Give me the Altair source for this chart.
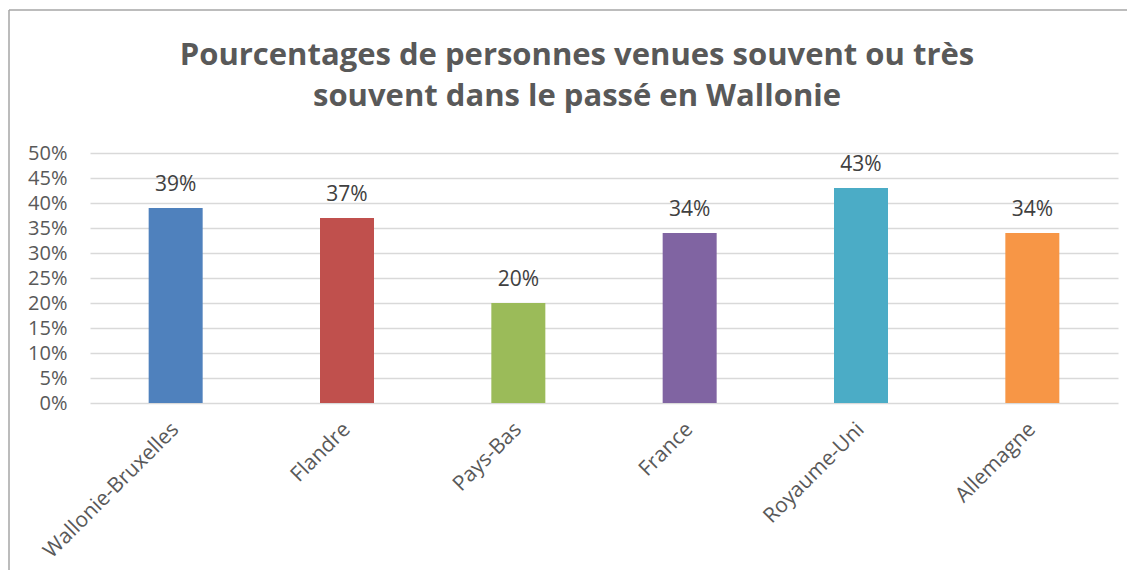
import altair as alt
import pandas as pd

categories = ["Wallonie-Bruxelles", "Flandre", "Pays-Bas", "France", "Royaume-Uni", "Allemagne"]
values = [0.39, 0.37, 0.20, 0.34, 0.43, 0.34]
colors = ["#4F81BD", "#C0504D", "#9BBB59", "#8064A2", "#4BACC6", "#F79646"]
y_ticks = [0, 0.05, 0.10, 0.15, 0.20, 0.25, 0.30, 0.35, 0.40, 0.45, 0.50]
title_lines = ["Pourcentages de personnes venues souvent ou très",
               "souvent dans le passé en Wallonie"]

df = pd.DataFrame({"pays": categories, "pct": values})

FONT = "Open Sans"

x = alt.X("pays:N", sort=categories, title=None,
          scale=alt.Scale(paddingInner=0, paddingOuter=0),
          axis=alt.Axis(labelAngle=-45, labelAlign="right", labelBaseline="middle",
                        labelFontSize=21, labelColor="#595959", labelFont=FONT,
                        labelPadding=23, labelLimit=400, ticks=False, domain=False,
                        grid=False, labelOverlap=False))
y = alt.Y("pct:Q", title=None,
          scale=alt.Scale(domain=[0, 0.5], nice=False),
          axis=alt.Axis(values=y_ticks, format=".0%", labelFontSize=20,
                        labelColor="#595959", labelFont=FONT, labelPadding=23,
                        labelOverlap=False, labelBaseline="middle", labelFlush=False,
                        ticks=False, domain=False, grid=True, gridColor="#D9D9D9",
                        gridWidth=1.5))

bars = alt.Chart(df).mark_bar(size=54).encode(
    x=x, y=y,
    color=alt.Color("pays:N", sort=categories,
                    scale=alt.Scale(domain=categories, range=colors), legend=None),
)

labels = alt.Chart(df).mark_text(dy=-17, baseline="alphabetic", fontSize=21,
                                 font=FONT, color="#404040").encode(
    x=x, y=y,
    text=alt.Text("pct:Q", format=".0%"),
)

one = alt.Data(values=[{"k": 1}])
left_border = alt.Chart(one).mark_rule(color="#A6A6A6", strokeWidth=1.5).encode(
    x=alt.value(-81), y=alt.value(-143), y2=alt.value(420))
top_border = alt.Chart(one).mark_rule(color="#A6A6A6", strokeWidth=1.5).encode(
    x=alt.value(-81), x2=alt.value(1040), y=alt.value(-143))

title_layers = [
    alt.Chart(one).mark_text(fontSize=31, font=FONT, fontWeight="bold",
                             color="#595959", align="center",
                             baseline="alphabetic").encode(
        x=alt.value(487), y=alt.value(yy), text=alt.value(line))
    for line, yy in zip(title_lines, [-88, -47])
]

chart = alt.layer(left_border, top_border, *title_layers, bars, labels).properties(
    width=1028, height=250,
    autosize=alt.AutoSizeParams(type="none"),
    padding={"left": 82, "top": 145, "right": 9, "bottom": 167},
).configure_view(stroke=None)

chart.save("out.html", embed_options={"renderer": "svg", "actions": False})
